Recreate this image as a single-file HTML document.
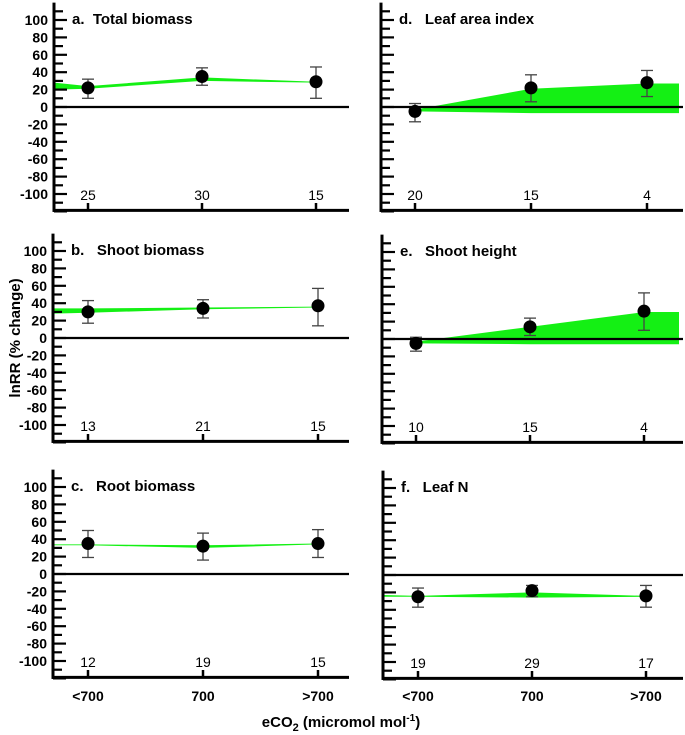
<!DOCTYPE html>
<html><head><meta charset="utf-8"><style>
html,body{margin:0;padding:0;background:#fff;}
svg{display:block;font-family:"Liberation Sans",Arial,sans-serif;}
text{white-space:pre;}
</style></head><body>
<svg id="chart" width="685" height="735" viewBox="0 0 685 735" xmlns="http://www.w3.org/2000/svg"></svg>
<script>
// ---- data ----
const categories = ["<700", "700", ">700"];
const panelTitles = ["a.  Total biomass", "b.   Shoot biomass", "c.   Root biomass", "d.   Leaf area index", "e.   Shoot height", "f.   Leaf N"];
const yTickLabels = [100, 80, 60, 40, 20, 0, -20, -40, -60, -80, -100];
const meanA = [22, 35, 29], loA = [10, 25, 10], hiA = [32, 45, 46], nA = [25, 30, 15];
const bandLoA = [20, 21, 30, 28], bandHiA = [28, 24, 34, 29];
const meanB = [30, 34, 37], loB = [17, 23, 14], hiB = [43, 44, 57], nB = [13, 21, 15];
const bandLoB = [28, 29, 33, 35], bandHiB = [34, 34, 35, 36];
const meanC = [35, 32, 35], loC = [19, 16, 19], hiC = [50, 47, 51], nC = [12, 19, 15];
const bandLoC = [33, 33, 30, 34], bandHiC = [34, 34, 33, 35];
const meanD = [-5, 22, 28], loD = [-17, 6, 12], hiD = [4, 37, 42], nD = [20, 15, 4];
const bandLoD = [-5, -7, -7, -7], bandHiD = [-3, 21, 27, 27];
const meanE = [-5, 14, 32], loE = [-14, 4, 10], hiE = [2, 24, 53], nE = [10, 15, 4];
const bandLoE = [-5, -6, -6, -6], bandHiE = [-3, 14, 31, 31];
const meanF = [-25, -18, -24], loF = [-37, -25, -37], hiF = [-15, -12, -12], nF = [19, 29, 17];
const bandLoF = [-25, -25, -26, -25], bandHiF = [-23, -24, -20, -24];

const series = [
  {mean: meanA, lo: loA, hi: hiA, n: nA, bLo: bandLoA, bHi: bandHiA},
  {mean: meanB, lo: loB, hi: hiB, n: nB, bLo: bandLoB, bHi: bandHiB},
  {mean: meanC, lo: loC, hi: hiC, n: nC, bLo: bandLoC, bHi: bandHiC},
  {mean: meanD, lo: loD, hi: hiD, n: nD, bLo: bandLoD, bHi: bandHiD},
  {mean: meanE, lo: loE, hi: hiE, n: nE, bLo: bandLoE, bHi: bandHiE},
  {mean: meanF, lo: loF, hi: hiF, n: nF, bLo: bandLoF, bHi: bandHiF}
];

// ---- layout ----
const layout = [
  {ax: 54, x0: 88, dx: 114, zero: 107, right: 349, left: true, bandLeft: true},
  {ax: 53, x0: 88, dx: 115, zero: 338, right: 349, left: true, bandLeft: true},
  {ax: 53, x0: 88, dx: 115, zero: 574, right: 349, left: true, bandLeft: true},
  {ax: 381, x0: 415, dx: 116, zero: 107, right: 683, left: false, bandLeft: false},
  {ax: 382, x0: 416, dx: 114, zero: 339, right: 683, left: false, bandLeft: false},
  {ax: 383, x0: 418, dx: 114, zero: 575, right: 683, left: false, bandLeft: true}
];
const K = 0.87;
const svg = document.getElementById('chart');
const NS = "http://www.w3.org/2000/svg";
function mk(tag, attrs, parent) {
  const e = document.createElementNS(NS, tag);
  for (const k in attrs) e.setAttribute(k, attrs[k]);
  (parent || svg).appendChild(e);
  return e;
}

layout.forEach((L, p) => {
  const S = series[p];
  const g = mk('g', {});
  
  
  const y = v => L.zero - v * K;
  const x = i => L.x0 + i * L.dx;
  const bottom = L.zero + 120 * K - 1;
  // band
  const bx = L.bandLeft ? [L.ax, x(0), x(1), x(2)] : [x(0), x(1), x(2), L.right - 4];
  let pts = bx.map((xx, i) => xx + ',' + y(S.bHi[i]));
  pts = pts.concat(bx.map((xx, i) => xx + ',' + y(S.bLo[i])).reverse());
  const band = mk('polygon', {points: pts.join(' '), fill: '#14f014'}, g);
  
  
  // y axis
  const ya = mk('line', {x1: L.ax, y1: L.zero - 120 * K, x2: L.ax, y2: bottom + 1.5, stroke: '#000', 'stroke-width': 3}, g);
  
  
  for (let v = -120; v <= 110; v += 10) {
    const major = v % 20 === 0;
    const t = mk('line', {x1: L.ax, y1: y(v), x2: L.ax + (major ? 13 : 9), y2: y(v), stroke: '#000', 'stroke-width': 2.2}, g);
    
    
  }
  if (L.left) {
    yTickLabels.forEach(v => {
      const t = mk('text', {x: L.ax - 6, y: y(v) + 5, 'text-anchor': 'end', 'font-size': 14, 'font-weight': 'bold'}, g);
      t.textContent = v;
      
      
    });
  }
  // zero line
  const zl = mk('line', {x1: L.ax, y1: L.zero, x2: L.right, y2: L.zero, stroke: '#000', 'stroke-width': 2.2}, g);
  
  
  // bottom axis
  const xa = mk('line', {x1: L.ax - 1.5, y1: bottom, x2: L.right, y2: bottom, stroke: '#000', 'stroke-width': 3}, g);
  
  
  // title
  const tt = mk('text', {x: L.ax + 18, y: L.zero - 83, 'font-size': 15, 'font-weight': 'bold'}, g);
  tt.textContent = panelTitles[p];
  
  
  categories.forEach((c, i) => {
    const tk = mk('line', {x1: x(i), y1: L.zero + 96, x2: x(i), y2: bottom, stroke: '#000', 'stroke-width': 2.5}, g);
    
    
    const nt = mk('text', {x: x(i), y: L.zero + 93, 'text-anchor': 'middle', 'font-size': 14}, g);
    nt.textContent = S.n[i];
    
    
    // error bar
    const eb = mk('g', {stroke: '#444', 'stroke-width': 1.3}, g);
    
    
    mk('line', {x1: x(i), y1: y(S.lo[i]), x2: x(i), y2: y(S.hi[i])}, eb);
    mk('line', {x1: x(i) - 6, y1: y(S.lo[i]), x2: x(i) + 6, y2: y(S.lo[i])}, eb);
    mk('line', {x1: x(i) - 6, y1: y(S.hi[i]), x2: x(i) + 6, y2: y(S.hi[i])}, eb);
    const d = mk('circle', {cx: x(i), cy: y(S.mean[i]), r: 6.5, fill: '#000'}, g);
    
    
    if (p === 2 || p === 5) {
      const cl = mk('text', {x: x(i), y: 701, 'text-anchor': 'middle', 'font-size': 14, 'font-weight': 'bold'}, g);
      cl.textContent = c;
      
      
    }
  });
});
</script>
<svg style="position:absolute;left:0;top:0" width="685" height="735" xmlns="http://www.w3.org/2000/svg" font-family="Liberation Sans, Arial, sans-serif">
  <text transform="translate(20,338) rotate(-90)" text-anchor="middle" font-size="15" font-weight="bold">lnRR (% change)</text>
  <text x="341" y="727" text-anchor="middle" font-size="15" font-weight="bold">eCO<tspan font-size="11" dy="4">2</tspan><tspan dy="-4"> (micromol mol</tspan><tspan font-size="10" dy="-6">-1</tspan><tspan dy="6">)</tspan></text>
</svg>
</body></html>
